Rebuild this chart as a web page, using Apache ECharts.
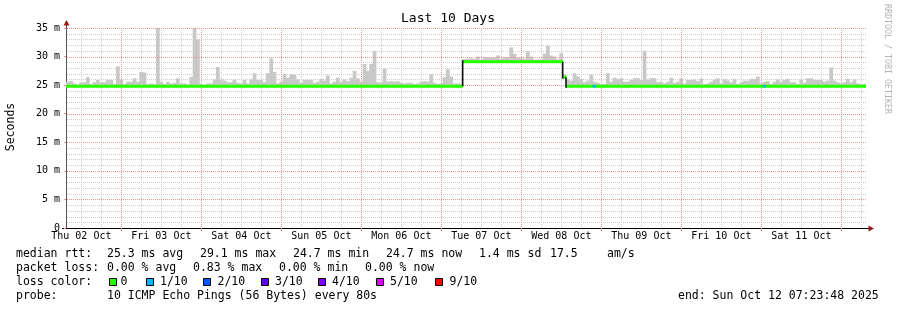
<!DOCTYPE html>
<html><head><meta charset="utf-8">
<script src="https://cdn.jsdelivr.net/npm/echarts@6/dist/echarts.min.js"></script>
<style>html,body{margin:0;padding:0;background:#fff}#c{width:897px;height:310px}</style>
</head><body><div id="c"></div>
<script>
// time axis in hours since Thu 02 Oct 00:00; window = Last 10 Days ending Sun Oct 12 07:23:48
const startHour = 7 + 23/60 + 48/3600;
const endHour = startHour + 240;

// hourly max ping (smoke top), ms
const maxRtt = [
 25.6,25.7,25.3,25.1,25.5,25.5,26.4,25.2,25.5,25.9, 25.5,25.5,25.9,25.9,25.2,28.3,26.0,25.2,25.6,25.6,
 26.2,25.6,27.3,27.2,25.2,25.3,25.2,35.0,25.6,25.2, 25.6,25.3,25.4,26.2,25.3,25.3,25.1,26.4,35.0,33.0,
 25.2,25.1,25.3,25.3,26.0,28.2,26.0,25.8,25.5,25.5, 26.0,25.4,25.3,25.9,25.3,26.0,27.1,25.9,25.9,25.5,
 27.1,29.7,27.3,25.3,25.6,27.0,26.3,26.9,26.8,26.0, 25.4,25.9,25.9,25.9,25.4,25.6,26.1,25.8,26.7,25.3,
 25.6,26.3,25.6,26.0,25.7,26.3,27.5,26.2,25.6,28.7, 27.5,28.7,31.0,25.5,25.5,27.9,25.6,25.7,25.6,25.7,
 25.4,25.3,25.4,25.4,25.2,25.3,25.6,25.7,25.6,26.9, 25.4,25.2,25.3,26.4,27.8,26.5,25.3,25.3,25.3,29.6,
 29.6,29.7,29.6,30.0,29.5,29.9,29.9,29.8,29.8,30.2, 29.6,29.9,29.9,31.6,30.5,29.8,29.8,29.6,30.9,30.0,
 29.5,29.5,29.5,30.5,31.9,30.2,30.0,29.5,30.6,26.9, 26.0,25.8,27.1,26.5,26.1,25.5,25.8,26.8,25.6,25.4,
 25.1,25.2,27.1,25.6,26.3,26.1,26.2,25.6,25.6,25.9, 26.2,26.2,25.9,31.0,26.0,26.2,26.2,25.5,25.6,25.3,
 25.6,26.3,25.4,25.6,26.2,25.3,25.9,25.9,26.0,25.7, 26.1,25.2,25.3,25.6,26.0,26.2,25.3,26.1,25.8,25.5,
 26.1,25.2,25.5,25.8,25.8,26.1,26.1,26.5,25.3,25.6, 25.7,25.2,25.6,26.0,25.6,25.9,26.1,25.5,25.5,25.2,
 26.0,25.4,26.2,26.2,25.9,25.9,25.9,25.6,25.8,28.1, 25.8,25.5,25.3,25.5,26.1,25.5,26.0,25.3,25.2,25.2
];
// hourly median rtt, ms
const medianRtt = [
 24.8,24.8,24.8,24.8,24.8,24.8,24.8,24.8,24.8,24.8, 24.8,24.8,24.8,24.8,24.8,24.8,24.8,24.8,24.8,24.8,
 24.8,24.8,24.8,24.8,24.8,24.8,24.8,24.8,24.8,24.8, 24.8,24.8,24.8,24.8,24.8,24.8,24.8,24.8,24.8,24.8,
 24.8,24.8,24.8,24.8,24.8,24.8,24.8,24.8,24.8,24.8, 24.8,24.8,24.8,24.8,24.8,24.8,24.8,24.8,24.8,24.8,
 24.8,24.8,24.8,24.8,24.8,24.8,24.8,24.8,24.8,24.8, 24.8,24.8,24.8,24.8,24.8,24.8,24.8,24.8,24.8,24.8,
 24.8,24.8,24.8,24.8,24.8,24.8,24.8,24.8,24.8,24.8, 24.8,24.8,24.8,24.8,24.8,24.8,24.8,24.8,24.8,24.8,
 24.8,24.8,24.8,24.8,24.8,24.8,24.8,24.8,24.8,24.8, 24.8,24.8,24.8,24.8,24.8,24.8,24.8,24.8,24.8,29.1,
 29.1,29.1,29.1,29.1,29.1,29.1,29.1,29.1,29.1,29.1, 29.1,29.1,29.1,29.1,29.1,29.1,29.1,29.1,29.1,29.1,
 29.1,29.1,29.1,29.1,29.1,29.1,29.1,29.1,29.1,26.4, 24.8,24.8,24.8,24.8,24.8,24.8,24.8,24.8,24.8,24.8,
 24.8,24.8,24.8,24.8,24.8,24.8,24.8,24.8,24.8,24.8, 24.8,24.8,24.8,24.8,24.8,24.8,24.8,24.8,24.8,24.8,
 24.8,24.8,24.8,24.8,24.8,24.8,24.8,24.8,24.8,24.8, 24.8,24.8,24.8,24.8,24.8,24.8,24.8,24.8,24.8,24.8,
 24.8,24.8,24.8,24.8,24.8,24.8,24.8,24.8,24.8,24.8, 24.8,24.8,24.8,24.8,24.8,24.8,24.8,24.8,24.8,24.8,
 24.8,24.8,24.8,24.8,24.8,24.8,24.8,24.8,24.8,24.8, 24.8,24.8,24.8,24.8,24.8,24.8,24.8,24.8,24.8,24.8
];
// hours (bar index) with packet loss, and lost pings out of 10
const lossBarIndex = [158, 209];
const lossBarCount = [1, 1];

const lossLabels = ['0', '1/10', '2/10', '3/10', '4/10', '5/10', '9/10'];
const lossCounts = [0, 1, 2, 3, 4, 5, 9];
const lossColors = ['#26ff00', '#00b8ff', '#0059ff', '#5e00ff', '#7e00ff', '#dd00ff', '#ff0000'];

const dayLabelHours = [12, 36, 60, 84, 108, 132, 156, 180, 204, 228];
const dayLabels = ['Thu 02 Oct','Fri 03 Oct','Sat 04 Oct','Sun 05 Oct','Mon 06 Oct','Tue 07 Oct','Wed 08 Oct','Thu 09 Oct','Fri 10 Oct','Sat 11 Oct'];
const dayBoundaryHours = [24, 48, 72, 96, 120, 144, 168, 192, 216, 240];
const sixHourHours = [12,18,30,36,42,54,60,66,78,84,90,102,108,114,126,132,138,150,156,162,174,180,186,198,204,210,222,228,234,246];
const yMajorTicks = [5, 10, 15, 20, 25, 30, 35];
const yMinorTicks = [1,2,3,4,6,7,8,9,11,12,13,14,16,17,18,19,21,22,23,24,26,27,28,29,31,32,33,34];

const statsRow1 = ['median rtt:', '25.3 ms avg', '29.1 ms max', '24.7 ms min', '24.7 ms now', '1.4 ms sd', '17.5', 'am/s'];
const statsRow2 = ['packet loss:', '0.00 % avg', '0.83 % max', '0.00 % min', '0.00 % now'];
const probeText = '10 ICMP Echo Pings (56 Bytes) every 80s';
const endText = 'end: Sun Oct 12 07:23:48 2025';

const MONO = '"DejaVu Sans Mono", monospace';

const lossOf = i => { const k = lossBarIndex.indexOf(i); return k < 0 ? 0 : lossBarCount[k]; };
const bars = maxRtt.map((m, i) => [startHour + i, m, medianRtt[i], lossOf(i), i]);

// grid lines table: [axis (0 = x, 1 = y), value, major?]
const gridTable = []
  .concat(yMinorTicks.map(v => [1, v, 0]))
  .concat(sixHourHours.map(v => [0, v, 0]))
  .concat(yMajorTicks.map(v => [1, v, 1]))
  .concat(dayBoundaryHours.map(v => [0, v, 1]));
const MINOR_COLOR = '#cdcdcd';
const MAJOR_COLOR = '#f29292';

const chart = echarts.init(document.getElementById('c'), null, { renderer: 'canvas' });

const graphics = [];
const txt = (x, y, text, size, extra) => graphics.push(Object.assign({
  type: 'text', x, y, silent: true,
  style: Object.assign({ text, font: size + 'px ' + MONO, fill: '#000', align: 'left', verticalAlign: 'middle' }, extra || {})
}));
txt(448, 19, 'Last 10 Days', 13, { align: 'center' });
graphics.push({ type: 'text', x: 11, y: 127, rotation: Math.PI / 2, silent: true,
  style: { text: 'Seconds', font: '11.5px ' + MONO, fill: '#000', align: 'center', verticalAlign: 'middle' } });
graphics.push({ type: 'text', x: 887, y: 59, rotation: -Math.PI / 2, silent: true,
  style: { text: 'RRDTOOL / TOBI OETIKER', font: '8.3px ' + MONO, fill: '#b4b4b4', align: 'center', verticalAlign: 'middle' } });

const row1X = [16, 107, 200, 293, 386, 479, 550, 607];
statsRow1.forEach((s, k) => txt(row1X[k], 254, s, 11.5));
const row2X = [16, 107, 193, 279, 365];
statsRow2.forEach((s, k) => txt(row2X[k], 268, s, 11.5));
txt(16, 282, 'loss color:', 11.5);
const boxX = [109, 146, 203, 261, 318, 376, 435];
const boxLabelX = [120.5, 160, 217.5, 275, 332, 390, 449.5];
lossLabels.forEach((l, k) => {
  graphics.push({ type: 'rect', silent: true, shape: { x: boxX[k] + 0.5, y: 278.5, width: 7, height: 7 },
    style: { fill: lossColors[k], stroke: '#000', lineWidth: 1 } });
  txt(boxLabelX[k], 282, l, 11.5);
});
txt(16, 296, 'probe:', 11.5);
txt(107, 296, probeText, 11.5);
txt(678, 296, endText, 11.5);

// axis arrows / extensions
graphics.push({ type: 'line', silent: true, shape: { x1: 66.5, y1: 24, x2: 66.5, y2: 28 }, style: { stroke: '#555', lineWidth: 1 } });
graphics.push({ type: 'polygon', silent: true, shape: { points: [[63.5, 25.5], [69.5, 25.5], [66.5, 20]] }, style: { fill: '#9c1a1a' } });
graphics.push({ type: 'line', silent: true, shape: { x1: 62, y1: 228.5, x2: 66, y2: 228.5 }, style: { stroke: '#000', lineWidth: 1 } });
graphics.push({ type: 'line', silent: true, shape: { x1: 866, y1: 228.5, x2: 869, y2: 228.5 }, style: { stroke: '#000', lineWidth: 1 } });
graphics.push({ type: 'polygon', silent: true, shape: { points: [[868.5, 225.5], [868.5, 231.5], [874, 228.5]] }, style: { fill: '#9c1a1a' } });

chart.setOption({
  animation: false,
  backgroundColor: '#fff',
  grid: { left: 66, right: 31, top: 28, bottom: 82, containLabel: false },
  xAxis: {
    type: 'value', min: startHour, max: endHour,
    axisLine: { show: true, lineStyle: { color: '#000', width: 1 } },
    axisTick: { show: true, customValues: dayBoundaryHours, length: 3, lineStyle: { color: MAJOR_COLOR } },
    axisLabel: { show: true, customValues: dayLabelHours, margin: 3,
      formatter: v => dayLabels[dayLabelHours.indexOf(v)] || '',
      fontFamily: MONO, fontSize: 10, color: '#000' },
    splitLine: { show: false }
  },
  yAxis: {
    type: 'value', min: 0, max: 35, interval: 5,
    axisLine: { show: true, lineStyle: { color: '#555', width: 1 } },
    axisTick: { show: true, length: 2, lineStyle: { color: MAJOR_COLOR } },
    axisLabel: { margin: 6, formatter: v => v === 0 ? '0' : v + ' m', fontFamily: MONO, fontSize: 10, color: '#000' },
    splitLine: { show: false }
  },
  graphic: graphics,
  series: [
    {
      name: 'smoke', type: 'custom', z: 2, data: bars, clip: true,
      renderItem: (params, api) => {
        const t = api.value(0), hi = api.value(1), med = api.value(2);
        const a = api.coord([t, hi]), b = api.coord([t + 1, med]);
        return { type: 'rect', shape: { x: a[0], y: a[1], width: b[0] - a[0] + 0.4, height: b[1] - a[1] },
          style: { fill: '#c8c8c8' } };
      }
    },
    {
      name: 'grid', type: 'custom', z: 3, data: gridTable, silent: true,
      renderItem: (params, api) => {
        const axis = api.value(0), v = api.value(1), major = api.value(2);
        const cs = params.coordSys;
        const stroke = major ? MAJOR_COLOR : MINOR_COLOR;
        let shape;
        if (axis === 0) {
          const x = Math.round(api.coord([v, 0])[0]) + 0.5;
          shape = { x1: x, y1: cs.y, x2: x, y2: cs.y + cs.height };
        } else {
          const y = Math.round(api.coord([startHour, v])[1]) + 0.5;
          shape = { x1: cs.x + 1, y1: y, x2: cs.x + cs.width, y2: y };
        }
        return { type: 'line', shape, style: { stroke, lineWidth: 1, lineDash: [1, 1] } };
      }
    },
    {
      name: 'median', type: 'custom', z: 10, data: bars, clip: true,
      renderItem: (params, api) => {
        const t = api.value(0), med = api.value(2), loss = api.value(3), i = api.value(4);
        const a = api.coord([t, med]), b = api.coord([t + 1, med]);
        const col = lossColors[lossCounts.indexOf(loss)] || lossColors[0];
        const children = [{ type: 'rect', shape: { x: a[0], y: a[1] - 1.5, width: b[0] - a[0] + 0.4, height: 3 }, style: { fill: col } }];
        if (i > 0 && medianRtt[i - 1] !== med) {
          const p = api.coord([t, medianRtt[i - 1]]);
          children.push({ type: 'line', shape: { x1: a[0], y1: p[1], x2: a[0], y2: a[1] + (med < medianRtt[i - 1] ? 1.5 : -1.5) },
            style: { stroke: '#111', lineWidth: 1.6 } });
        }
        return { type: 'group', children };
      }
    }
  ]
});
</script>
</body></html>
